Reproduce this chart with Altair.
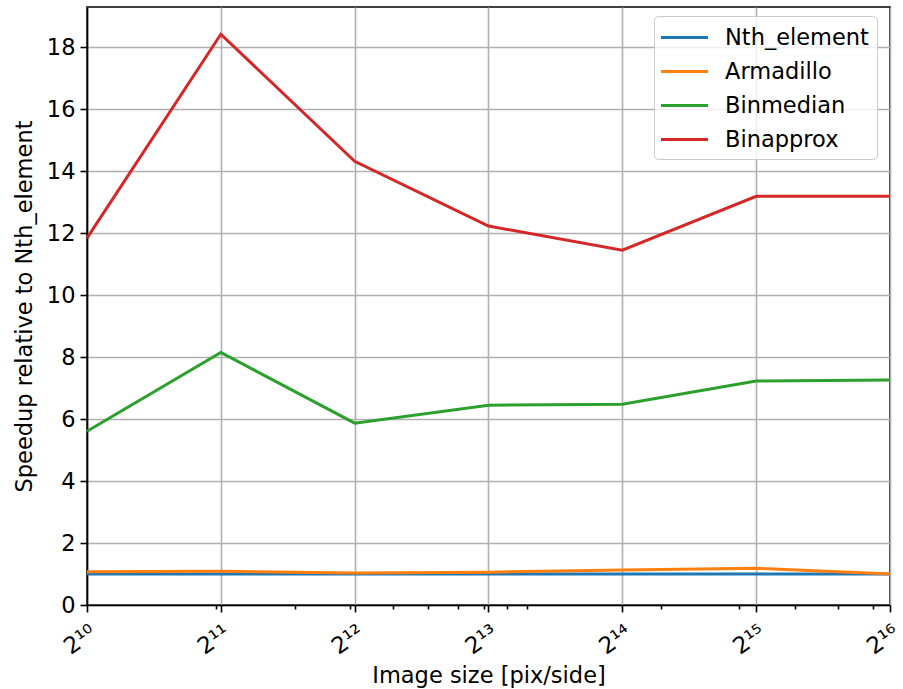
import altair as alt
import pandas as pd

sizes = [1024, 2048, 4096, 8192, 16384, 32768, 65536]
size_labels = ["2¹⁰", "2¹¹", "2¹²", "2¹³", "2¹⁴", "2¹⁵", "2¹⁶"]
minor_ticks = [2000, 3000, 4000, 5000, 6000, 7000, 8000, 9000, 10000,
               20000, 30000, 40000, 50000, 60000]
series = ["Nth_element", "Armadillo", "Binmedian", "Binapprox"]
colors = ["#1f77b4", "#ff7f0e", "#2ca02c", "#d62728"]

nth_element = [1.0, 1.0, 1.0, 1.0, 1.0, 1.0, 1.0]
armadillo = [1.07, 1.09, 1.03, 1.06, 1.13, 1.19, 1.0]
binmedian = [5.61, 8.15, 5.87, 6.45, 6.48, 7.23, 7.26]
binapprox = [11.84, 18.42, 14.32, 12.23, 11.45, 13.19, 13.19]

rows = []
for name, vals in zip(series, [nth_element, armadillo, binmedian, binapprox]):
    for s, v in zip(sizes, vals):
        rows.append({"size": s, "speedup": v, "method": name})
df = pd.DataFrame(rows)

label_expr = "''"
for s, lab in reversed(list(zip(sizes, size_labels))):
    label_expr = f"datum.value == {s} ? '{lab}' : ({label_expr})"
major_test = "indexof([" + ",".join(str(s) for s in sizes) + "], datum.value) >= 0"

font = "DejaVu Sans"
fs = 22.5

chart = alt.Chart(df).mark_line(strokeWidth=3).encode(
    x=alt.X(
        "size:Q",
        scale=alt.Scale(type="log", base=2, domain=[1024, 65536], nice=False),
        axis=alt.Axis(
            title="Image size [pix/side]",
            values=sizes + minor_ticks,
            labelExpr=label_expr,
            labelAngle=325,
            labelAlign="right",
            labelBaseline="top",
            labelFontSize=fs + 0.5,
            labelPadding=9,
            labelOverlap=False,
            labelFlush=False,
            tickSize={"condition": {"test": major_test, "value": 7}, "value": 4},
            gridOpacity={"condition": {"test": major_test, "value": 1}, "value": 0},
            titlePadding=6,
        ),
    ),
    y=alt.Y(
        "speedup:Q",
        scale=alt.Scale(domain=[0, 19.3], nice=False, zero=True),
        axis=alt.Axis(
            title="Speedup relative to Nth_element",
            values=list(range(0, 19, 2)),
            tickSize=7,
            labelPadding=5,
            titlePadding=10,
        ),
    ),
    color=alt.Color(
        "method:N",
        scale=alt.Scale(domain=series, range=colors),
        sort=series,
        legend=alt.Legend(
            title=None,
            orient="none",
            legendX=567,
            legendY=9,
            symbolType="M-2,0H2",
            symbolSize=552,
            symbolStrokeWidth=3,
            symbolOffset=9,
            labelFontSize=fs,
            labelFont=font,
            labelColor="black",
            rowPadding=9,
            labelOffset=27,
            padding=8,
            fillColor="rgba(255,255,255,0.8)",
            strokeColor="#cccccc",
            cornerRadius=4,
        ),
    ),
    order=alt.Order("size:Q"),
).properties(
    width=803,
    height=598,
    background="white",
    autosize=alt.AutoSizeParams(type="none"),
    padding={"left": 87, "top": 7, "right": 13, "bottom": 84},
).configure_axis(
    labelFont=font,
    titleFont=font,
    labelFontSize=fs,
    titleFontSize=fs,
    titleFontWeight="normal",
    titleColor="black",
    labelColor="black",
    domainColor="black",
    domainWidth=1.6,
    tickColor="black",
    tickWidth=1.6,
    gridColor="#b0b0b0",
    gridWidth=1.6,
).configure_view(
    stroke="black",
    strokeWidth=1.6,
)

chart.save("out.html", embed_options={"renderer": "svg", "actions": False})
